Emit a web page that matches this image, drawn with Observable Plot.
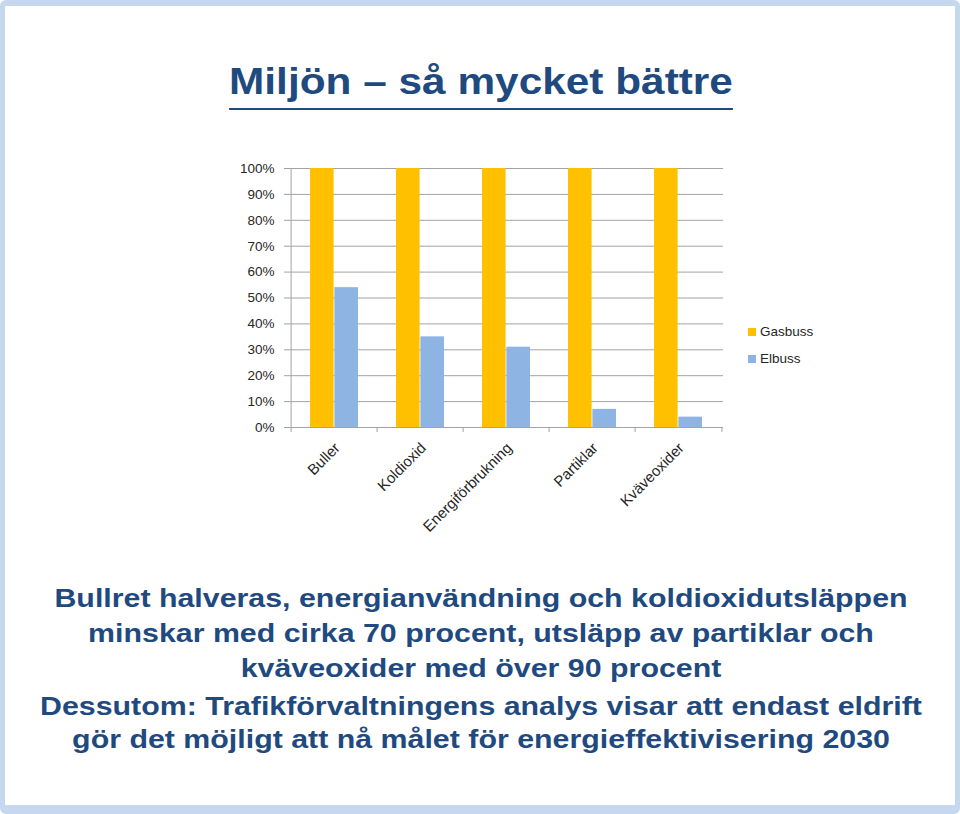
<!DOCTYPE html>
<html><head><meta charset="utf-8">
<script src="https://cdn.jsdelivr.net/npm/d3@7"></script>
<script src="https://cdn.jsdelivr.net/npm/@observablehq/plot@0.6"></script>
<style>
html,body{margin:0;padding:0;background:#fff;}
#frame{position:absolute;left:0;top:0;width:960px;height:814px;box-sizing:border-box;border:solid #c6d8ef;border-width:6px 5px 9px 5px;border-radius:6px;}
.t{position:absolute;left:1px;width:960px;text-align:center;font-family:"Liberation Sans",Arial,sans-serif;font-weight:bold;color:#1f4a7f;white-space:nowrap;line-height:1;transform:scaleX(1.145);transform-origin:480px 0;margin:0;}
#title{font-size:37px;top:62.7px;text-decoration:underline;text-decoration-thickness:2px;text-underline-offset:14px;}
.b{font-size:26.5px;}
#chart{position:absolute;left:200px;top:150px;}
#legend{position:absolute;left:748px;top:318px;font-family:"Liberation Sans",Arial,sans-serif;font-size:13.5px;color:#262626;}
#legend .item{display:flex;align-items:center;height:27px;}
#legend .sw{width:8px;height:8px;margin-right:4px;}
</style></head>
<body>
<div id="frame"></div>
<h1 class="t" id="title">Miljön – så mycket bättre</h1>
<div id="chart"></div>
<div id="legend"></div>
<div class="t b" style="top:584.6px">Bullret halveras, energianvändning och koldioxidutsläppen</div>
<div class="t b" style="top:619.6px">minskar med cirka 70 procent, utsläpp av partiklar och</div>
<div class="t b" style="top:654.6px">kväveoxider med över 90 procent</div>
<div class="t b" style="top:692.6px">Dessutom: Trafikförvaltningens analys visar att endast eldrift</div>
<div class="t b" style="top:725.6px">gör det möjligt att nå målet för energieffektivisering 2030</div>
<script>
const categories = ["Buller", "Koldioxid", "Energiförbrukning", "Partiklar", "Kväveoxider"];
const seriesNames = ["Gasbuss", "Elbuss"];
const gasbuss = [100, 100, 100, 100, 100];
const elbuss = [54, 35, 31, 7, 4];
const yTicks = [0, 10, 20, 30, 40, 50, 60, 70, 80, 90, 100];
const colors = ["#ffc000", "#8eb4e3"];

const rows = categories.flatMap((c, i) => [
  {category: c, series: seriesNames[0], value: gasbuss[i]},
  {category: c, series: seriesNames[1], value: elbuss[i]}
]);

const W = 560, H = 400, mL = 89, mR = 37, mT = 18, mB = 123;
const bw = (W - mL - mR) / categories.length;
const barW = 24.4;
const pad = (bw - 2 * barW) / 2;
const grid = "#a3a3a3";

const chart = Plot.plot({
  width: W, height: H,
  marginLeft: mL, marginRight: mR, marginTop: mT, marginBottom: mB,
  x: {type: "band", domain: categories, padding: 0, axis: null},
  y: {domain: [0, 100], ticks: yTicks, tickFormat: d => d + "%", tickSize: 0, tickPadding: 15, label: null},
  style: {fontFamily: "Liberation Sans, Arial, sans-serif", fontSize: "13.5px", color: "#262626", background: "transparent"},
  marks: [
    Plot.ruleY(yTicks, {stroke: grid, insetLeft: -5}),
    Plot.ruleX(categories.slice(0, 1), {x: d => d, dx: -bw / 2, stroke: grid}),
    Plot.ruleX(categories, {x: d => d, dx: -bw / 2, y1: 0, y2: 0, insetBottom: -5, stroke: grid}),
    Plot.ruleX(categories.slice(-1), {x: d => d, dx: bw / 2, y1: 0, y2: 0, insetBottom: -5, stroke: grid}),
    Plot.barY(rows.filter(d => d.series === seriesNames[0]), {x: "category", y: "value", fill: colors[0], insetLeft: pad, insetRight: bw - pad - barW}),
    Plot.barY(rows.filter(d => d.series === seriesNames[1]), {x: "category", y: "value", fill: colors[1], insetLeft: pad + barW, insetRight: pad}),
    Plot.text(categories, {x: d => d, y: 0, dx: 3, dy: 18, rotate: -45, textAnchor: "end", fontSize: 15, fill: "#262626"})
  ]
});
document.getElementById("chart").appendChild(chart);

const legend = document.getElementById("legend");
seriesNames.forEach((s, i) => {
  const item = document.createElement("div");
  item.className = "item";
  const sw = document.createElement("span");
  sw.className = "sw";
  sw.style.background = colors[i];
  const lab = document.createElement("span");
  lab.textContent = s;
  item.appendChild(sw); item.appendChild(lab);
  legend.appendChild(item);
});
</script>
</body></html>
